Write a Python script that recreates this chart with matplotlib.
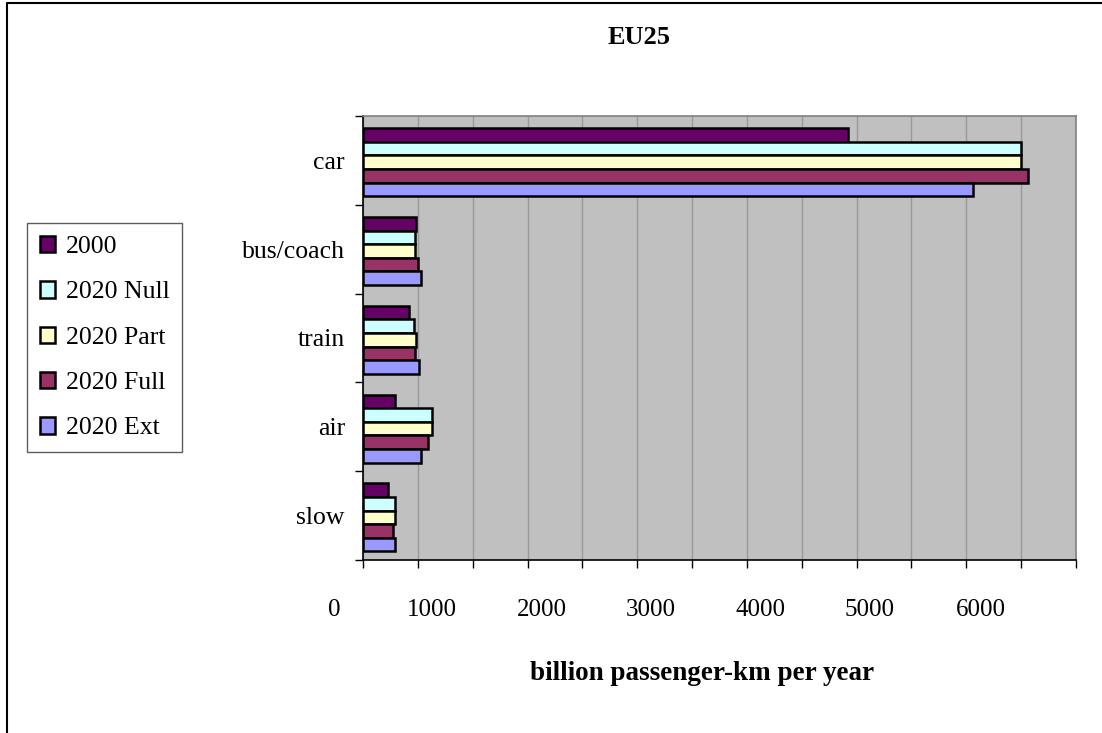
import matplotlib
matplotlib.use("Agg")
import matplotlib.pyplot as plt
from matplotlib.lines import Line2D
from matplotlib.transforms import blended_transform_factory
import numpy as np

# data (billion passenger-km per year, EU25)
categories = ['car', 'bus/coach', 'train', 'air', 'slow']
series_names = ['2000', '2020 Null', '2020 Part', '2020 Full', '2020 Ext']
v_2000 = [4420, 480, 418, 296, 231]
v_null = [5995, 478, 463, 627, 293]
v_part = [5995, 478, 479, 627, 293]
v_full = [6065, 503, 476, 590, 272]
v_ext = [5565, 525, 515, 525, 293]
tick_labels = ['0', '1000', '2000', '3000', '4000', '5000', '6000']

colors = ['#660066', '#CCFFFF', '#FFFFCC', '#993366', '#9999FF']
serif = ['Liberation Serif', 'DejaVu Serif']

plt.rcParams['font.family'] = serif

fig = plt.figure(figsize=(11.02, 7.33), dpi=100)
ax = fig.add_axes([363 / 1102, 1 - 560 / 733, (1076 - 363) / 1102, (560 - 116) / 733])
ax.set_facecolor('#C0C0C0')

values = [v_2000, v_null, v_part, v_full, v_ext]
y = np.arange(len(categories))
h = 0.153
for j, (name, vals, col) in enumerate(zip(series_names, values, colors)):
    ax.barh(y + (j - 2) * h + 0.02, vals, height=h, color=col, edgecolor='black',
            linewidth=1.8, label=name, zorder=3)

ax.set_xlim(0, 6500)
ax.set_ylim(len(categories) - 0.5, -0.5)

# vertical gridlines every 500
ax.set_xticks(np.arange(0, 6501, 500))
ax.set_xticklabels([])
ax.grid(axis='x', color='#999999', linewidth=1.0, zorder=0)
ax.tick_params(axis='x', direction='out', length=6, width=1, color='black')

# y: tick marks at group boundaries, labels at centres
ax.set_yticks(y)
ax.set_yticklabels(categories, fontsize=18.5)
ax.set_yticks(np.arange(-0.5, len(categories)), minor=True)
ax.tick_params(axis='y', which='major', length=0, pad=13)
ax.tick_params(axis='y', which='minor', direction='out', length=6, width=1, color='black')

for s in ['top', 'right']:
    ax.spines[s].set_color('#808080')
    ax.spines[s].set_linewidth(1.2)
for s in ['left', 'bottom']:
    ax.spines[s].set_color('black')
    ax.spines[s].set_linewidth(1.2)

# x tick labels sit left of the gridlines, as in the original export
trans = blended_transform_factory(ax.transData, ax.transAxes)
label_x = [-264, 629, 1627, 2625, 3623, 4622, 5634]
for lx, txt in zip(label_x, tick_labels):
    ax.text(lx, -50 / 444, txt, transform=trans, ha='center', va='center',
            fontsize=18, clip_on=False)

fig.text(639 / 1102, 1 - 37 / 733, 'EU25', ha='center', va='center',
         fontsize=19, fontweight='bold')
fig.text(702 / 1102, 1 - 673 / 733, 'billion passenger-km per year', ha='center',
         va='center', fontsize=19.5, fontweight='bold')

leg = fig.legend(loc='upper left', bbox_to_anchor=(27 / 1102, 1 - 223 / 733),
                 bbox_transform=fig.transFigure, fontsize=18.5, frameon=True,
                 fancybox=False, edgecolor='#333333', handlelength=0.6,
                 handleheight=0.6, handletextpad=0.4, labelspacing=0.9,
                 borderpad=0.5, borderaxespad=0)
leg.get_frame().set_linewidth(1.0)

# outer chart frame (left and top edges visible)
fig.add_artist(Line2D([7 / 1102, 7 / 1102, 1.0], [0.0, 1 - 3 / 733, 1 - 3 / 733],
                      transform=fig.transFigure, color='black', linewidth=1.5))

fig.savefig('out.png', dpi=100)
